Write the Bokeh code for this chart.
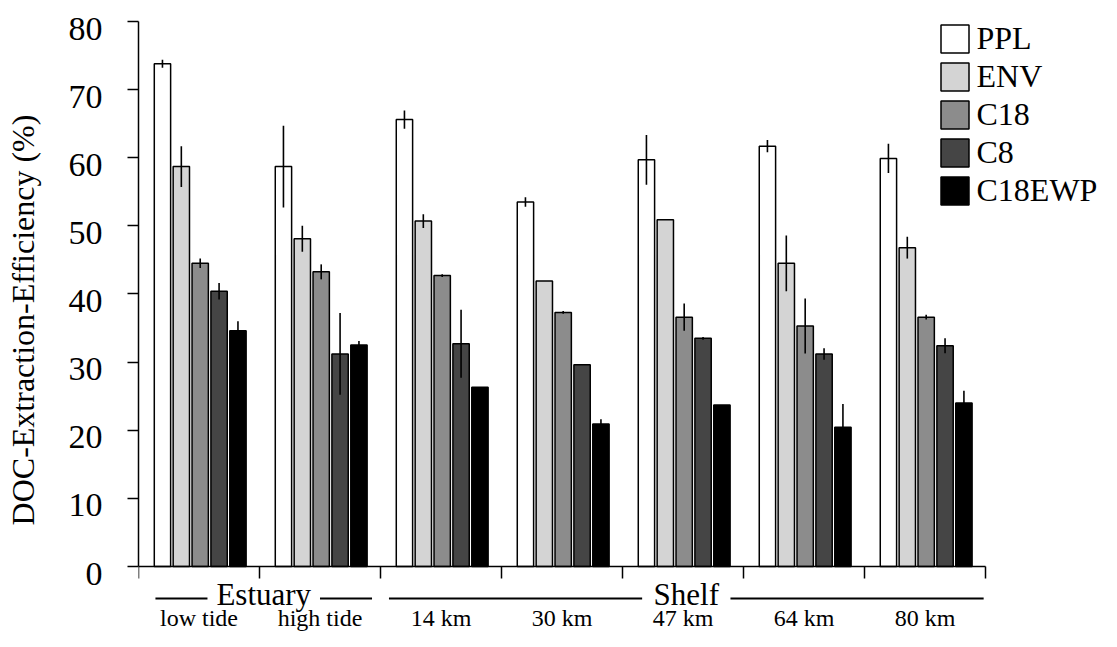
import numpy as np
from bokeh.plotting import figure
from bokeh.models import (Range1d, FixedTicker, LinearAxis, Legend, LegendItem,
                          ColumnDataSource)
from bokeh.core.properties import value
from bokeh.embed import file_html
from bokeh.resources import INLINE

# ---------------- data ----------------
sites = ["low tide", "high tide", "14 km", "30 km", "47 km", "64 km", "80 km"]
regions = ["Estuary", "Shelf"]
methods = ["PPL", "ENV", "C18", "C8", "C18EWP"]

ppl = [73.8, 58.7, 65.6, 53.5, 59.7, 61.7, 59.9]
ppl_err = [0.6, 6.0, 1.35, 0.7, 3.65, 0.9, 2.15]
env = [58.7, 48.1, 50.7, 41.9, 50.9, 44.5, 46.8]
env_err = [3.0, 1.9, 1.0, 0.0, 0.0, 4.1, 1.6]
c18 = [44.5, 43.25, 42.7, 37.3, 36.6, 35.3, 36.6]
c18_err = [0.7, 1.1, 0.2, 0.2, 2.0, 4.05, 0.35]
c8 = [40.4, 31.2, 32.7, 29.6, 33.5, 31.2, 32.4]
c8_err = [1.2, 6.0, 5.0, 0.0, 0.2, 0.85, 1.1]
c18ewp = [34.6, 32.5, 26.3, 20.9, 23.7, 20.45, 24.0]
c18ewp_err = [1.4, 0.6, 0.0, 0.7, 0.0, 3.4, 1.8]

y_ticks = [0, 10, 20, 30, 40, 50, 60, 70, 80]

# ---------------- layout / style ----------------
FONT = "Liberation Serif"
colors = ["#ffffff", "#d4d4d4", "#8c8c8c", "#454545", "#000000"]
values = [ppl, env, c18, c8, c18ewp]
errors = [ppl_err, env_err, c18_err, c8_err, c18ewp_err]

X0, X1 = 0, 7.959
Y0, Y1 = -9.541, 81.908
LABEL_SHIFT = 1.03            # tick labels sit a little below their ticks
bar_w = 0.135
bar_step = 0.156
group_mid = 0.51

region_brackets = [(0.14, 1.93), (2.07, 6.985)]
region_gap_half = [0.465, 0.365]
bracket_y = -4.70
region_text_y = -4.18
site_text_y = -7.63

p = figure(width=1101, height=631,
           x_range=Range1d(X0, X1), y_range=Range1d(Y0, Y1),
           x_axis_location="above",
           output_backend="svg", toolbar_location=None,
           min_border_left=138, min_border_right=0,
           min_border_top=8, min_border_bottom=0)
p.grid.visible = False
p.outline_line_color = None
p.background_fill_color = "white"
p.border_fill_color = "white"

# x axis: baseline with group-separating ticks, drawn at y = 0
xa = p.xaxis[0]
xa.fixed_location = 0
xa.bounds = (0, len(sites))
xa.ticker = FixedTicker(ticks=list(range(len(sites) + 1)))
xa.major_tick_in = 12
xa.major_tick_out = 0
xa.minor_tick_line_color = None
xa.major_label_text_font_size = "1px"
xa.major_label_text_color = None
xa.major_label_standoff = 0
xa.axis_line_width = 1.5
xa.major_tick_line_width = 1.5
xa.axis_line_color = "black"
xa.major_tick_line_color = "black"

# y axis: line + ticks
ya = p.yaxis[0]
ya.bounds = (0, 80)
ya.ticker = FixedTicker(ticks=y_ticks)
ya.major_tick_out = 11
ya.major_tick_in = 0
ya.minor_tick_line_color = None
ya.major_label_text_font_size = "1px"
ya.major_label_text_color = None
ya.major_label_standoff = 0
ya.axis_line_width = 1.5
ya.major_tick_line_width = 1.5
ya.axis_line_color = "black"
ya.major_tick_line_color = "black"

# y axis: labels (slightly lowered, as in the original) + title
p.extra_y_ranges = {"lab": Range1d(Y0 + LABEL_SHIFT, Y1 + LABEL_SHIFT)}
ya2 = LinearAxis(y_range_name="lab", ticker=FixedTicker(ticks=y_ticks),
                 bounds=(0, 80),
                 axis_line_color=None, major_tick_line_color=None,
                 minor_tick_line_color=None,
                 major_label_text_font=FONT, major_label_text_font_size="34px",
                 major_label_text_color="black",
                 major_label_standoff=19,
                 axis_label="DOC-Extraction-Efficiency (%)",
                 axis_label_text_font=FONT, axis_label_text_font_size="32px",
                 axis_label_text_font_style="normal",
                 axis_label_text_color="black",
                 axis_label_standoff=25)
p.add_layout(ya2, "left")

# bars + error bars
renderers = []
for k, (vals, errs, col) in enumerate(zip(values, errors, colors)):
    xs = np.arange(len(sites)) + group_mid + (k - 2) * bar_step
    v = np.array(vals)
    e = np.array(errs)
    src = ColumnDataSource(dict(x=xs, top=v, lo=v - e, hi=v + e))
    r = p.vbar(x="x", top="top", bottom=0, width=bar_w, source=src,
               fill_color=col, line_color="black", line_width=1.5)
    renderers.append(r)
    p.segment(x0="x", y0="lo", x1="x", y1="hi", source=src,
              line_color="black", line_width=1.6)

# region brackets and labels
centers = []
for (a, b), g in zip(region_brackets, region_gap_half):
    c = (a + b) / 2
    centers.append(c)
    p.segment(x0=[a, c + g], y0=[bracket_y, bracket_y],
              x1=[c - g, b], y1=[bracket_y, bracket_y],
              line_color="black", line_width=2)
p.text(x=centers, y=[region_text_y] * len(regions), text=regions,
       text_font=value(FONT), text_font_size="31px",
       text_align="center", text_baseline="alphabetic", text_color="black")

# site labels
p.text(x=np.arange(len(sites)) + 0.5, y=[site_text_y] * len(sites), text=sites,
       text_font=value(FONT), text_font_size="24px",
       text_align="center", text_baseline="alphabetic", text_color="black")

# legend
legend = Legend(items=[LegendItem(label=m, renderers=[r]) for m, r in zip(methods, renderers)],
                location=(798.5, 422.5),
                glyph_width=35, glyph_height=35, label_standoff=5,
                spacing=1, padding=0, margin=0,
                border_line_color=None, background_fill_alpha=0,
                label_text_font=FONT, label_text_font_size="32px",
                label_text_color="black")
p.add_layout(legend)

open("out.html", "w").write(file_html(p, INLINE))
